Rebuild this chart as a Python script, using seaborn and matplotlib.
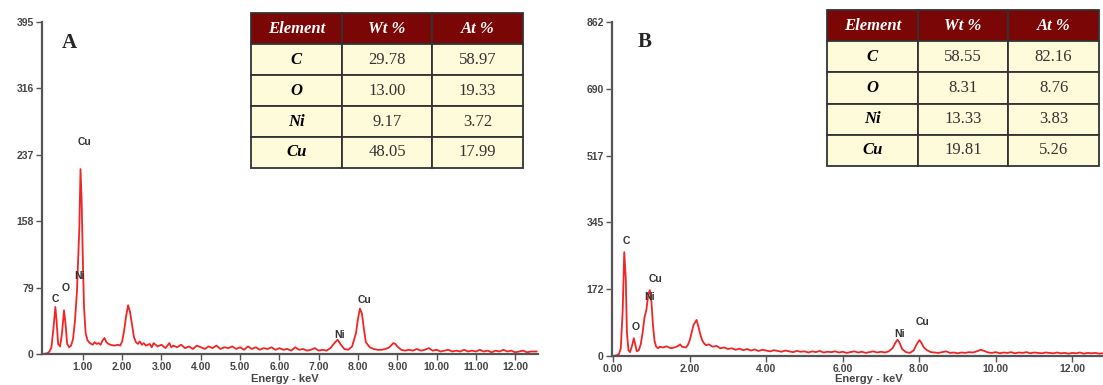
import pandas as pd
import numpy as np
import seaborn as sns
import matplotlib.pyplot as plt

# EDS spectrum A (energy in keV, counts)
energy_a = [0.00, 0.10, 0.15, 0.20, 0.25, 0.30, 0.33, 0.37, 0.42, 0.47, 0.52, 0.56, 0.60, 0.65,
            0.70, 0.75, 0.80, 0.85, 0.88, 0.91, 0.94, 0.97, 1.00, 1.03, 1.07, 1.12, 1.18, 1.25,
            1.30, 1.35, 1.40, 1.45, 1.50, 1.55, 1.60, 1.65, 1.70, 1.80, 1.90, 1.95, 2.00, 2.05,
            2.10, 2.15, 2.20, 2.25, 2.30, 2.35, 2.40, 2.45, 2.50, 2.55, 2.60, 2.70, 2.75, 2.80,
            2.90, 3.00, 3.10, 3.20, 3.25, 3.30, 3.40, 3.50, 3.60, 3.70, 3.80, 3.90, 4.00, 4.10,
            4.20, 4.30, 4.40, 4.50, 4.60, 4.70, 4.80, 4.90, 5.00, 5.10, 5.20, 5.30, 5.40, 5.50,
            5.60, 5.70, 5.80, 5.90, 6.00, 6.10, 6.20, 6.30, 6.40, 6.50, 6.60, 6.70, 6.80, 6.90,
            7.00, 7.10, 7.20, 7.30, 7.40, 7.48, 7.55, 7.65, 7.75, 7.85, 7.95, 8.00, 8.05, 8.10,
            8.15, 8.20, 8.30, 8.40, 8.50, 8.60, 8.70, 8.80, 8.90, 8.95, 9.00, 9.10, 9.20, 9.30,
            9.40, 9.50, 9.60, 9.70, 9.80, 9.90, 10.00, 10.10, 10.20, 10.30, 10.40, 10.50, 10.60,
            10.70, 10.80, 10.90, 11.00, 11.10, 11.20, 11.30, 11.40, 11.50, 11.60, 11.70, 11.80,
            11.90, 12.00, 12.10, 12.20, 12.30, 12.40, 12.55]
counts_a = [0, 1, 3, 8, 30, 56, 40, 12, 9, 25, 52, 35, 12, 8,
            10, 18, 40, 75, 112, 150, 220, 180, 110, 55, 25, 16, 13, 11,
            14, 12, 13, 11, 16, 19, 14, 12, 11, 10, 11, 10, 15, 28,
            45, 58, 50, 35, 20, 14, 12, 15, 11, 13, 10, 12, 8, 13,
            9, 11, 7, 13, 8, 10, 8, 11, 7, 9, 6, 10, 8, 6,
            9, 7, 10, 6, 8, 7, 9, 6, 8, 5, 9, 6, 8, 5,
            7, 6, 8, 5, 7, 5, 6, 4, 8, 5, 6, 4, 5, 7,
            4, 5, 4, 7, 13, 17, 12, 6, 5, 9, 25, 42, 54, 48,
            30, 14, 8, 6, 5, 5, 6, 8, 13, 12, 9, 5, 4, 5,
            4, 6, 4, 5, 7, 4, 5, 3, 4, 5, 3, 4, 3,
            5, 3, 4, 3, 5, 3, 4, 2, 4, 3, 5, 3,
            4, 2, 3, 4, 2, 3, 3]

# EDS spectrum B
energy_b = [0.00, 0.10, 0.15, 0.20, 0.25, 0.29, 0.33, 0.36, 0.40, 0.44, 0.49, 0.54, 0.58, 0.62,
            0.67, 0.72, 0.77, 0.82, 0.87, 0.92, 0.96, 1.00, 1.04, 1.08, 1.12, 1.17, 1.22, 1.30,
            1.40, 1.50, 1.60, 1.70, 1.75, 1.80, 1.90, 1.95, 2.00, 2.05, 2.10, 2.18, 2.23, 2.28,
            2.33, 2.38, 2.43, 2.50, 2.60, 2.70, 2.80, 2.90, 3.00, 3.10, 3.20, 3.30, 3.40, 3.50,
            3.60, 3.70, 3.80, 3.90, 4.00, 4.10, 4.20, 4.30, 4.40, 4.50, 4.60, 4.70, 4.80, 4.90,
            5.00, 5.10, 5.20, 5.30, 5.40, 5.50, 5.60, 5.70, 5.80, 5.90, 6.00, 6.10, 6.20, 6.30,
            6.40, 6.50, 6.60, 6.70, 6.80, 6.90, 7.00, 7.10, 7.20, 7.30, 7.38, 7.43, 7.48, 7.55,
            7.65, 7.75, 7.85, 7.93, 8.00, 8.05, 8.12, 8.20, 8.30, 8.40, 8.50, 8.60, 8.70, 8.80,
            8.90, 9.00, 9.10, 9.20, 9.30, 9.40, 9.50, 9.60, 9.70, 9.80, 9.90, 10.00, 10.10, 10.20,
            10.30, 10.40, 10.50, 10.60, 10.70, 10.80, 10.90, 11.00, 11.10, 11.20, 11.30, 11.40,
            11.50, 11.60, 11.70, 11.80, 11.90, 12.00, 12.10, 12.20, 12.30, 12.40, 12.50, 12.60,
            12.70, 12.80]
counts_b = [0, 2, 5, 20, 120, 268, 200, 60, 15, 10, 25, 46, 28, 12,
            15, 30, 60, 100, 120, 160, 170, 140, 80, 40, 25, 20, 24, 22,
            25, 20, 22, 26, 30, 24, 22, 28, 40, 60, 80, 93, 75, 55,
            40, 32, 28, 30, 24, 26, 20, 22, 18, 20, 16, 19, 15, 18,
            14, 17, 13, 16, 14, 12, 15, 13, 11, 14, 12, 10, 13, 11,
            12, 9, 12, 10, 13, 9, 11, 10, 12, 9, 11, 8, 10, 12,
            9, 11, 8, 10, 12, 9, 11, 9, 12, 20, 35, 42, 35, 18,
            10, 8, 14, 30, 41, 35, 22, 15, 10, 9, 8, 10, 12, 8,
            9, 7, 9, 8, 10, 9, 12, 16, 13, 9, 8, 10, 7, 9,
            8, 10, 7, 9, 8, 10, 7, 9, 8, 7, 9, 8,
            7, 9, 7, 8, 6, 8, 7, 9, 6, 8, 7, 8,
            6, 7]

elements = ['C', 'O', 'Ni', 'Cu']
wt_a = [29.78, 13.00, 9.17, 48.05]
at_a = [58.97, 19.33, 3.72, 17.99]
wt_b = [58.55, 8.31, 13.33, 19.81]
at_b = [82.16, 8.76, 3.83, 5.26]

yticks_a = [0, 79, 158, 237, 316, 395]
yticks_b = [0, 172.4, 344.8, 517.2, 689.6, 862]
ylabels_b = ['0', '172', '345', '517', '690', '862']

# peak labels (label, energy, counts)
peaks_a = [('C', 0.29, 65), ('O', 0.55, 79), ('Ni', 0.92, 93), ('Cu', 1.05, 252),
           ('Ni', 7.54, 23), ('Cu', 8.16, 64)]
peaks_b = [('C', 0.34, 297), ('O', 0.60, 76), ('Ni', 0.95, 151), ('Cu', 1.11, 200),
           ('Ni', 7.49, 57), ('Cu', 8.09, 88)]

sns.set_style('white')
plt.rcParams['font.family'] = ['Liberation Sans', 'DejaVu Sans']

fig = plt.figure(figsize=(11.03, 3.85), dpi=100)
ax_a = fig.add_axes([42/1103, 31/385, 496/1103, 332/385])
ax_b = fig.add_axes([612/1103, 29/385, 491/1103, 334/385])

red = '#f02525'
gray = '#444444'


def spectrum(ax, energy, counts, xlim, ymax, xticks, xlabels, yticks, ylabels, peaks,
             letter, letter_pos, lab_pos):
    df = pd.DataFrame({'energy': energy, 'counts': counts})
    sns.lineplot(data=df, x='energy', y='counts', ax=ax, color=red, lw=1.3, estimator=None)
    ax.set_xlim(*xlim)
    ax.set_ylim(0, ymax)
    ax.set_xticks(xticks)
    ax.set_xticklabels(xlabels)
    ax.set_yticks(yticks)
    ax.set_yticklabels(ylabels)
    ax.set_xlabel('')
    ax.set_ylabel('')
    for s in ['top', 'right']:
        ax.spines[s].set_visible(False)
    for s in ['left', 'bottom']:
        ax.spines[s].set_color('#555555')
        ax.spines[s].set_linewidth(1.6)
    ax.tick_params(axis='both', length=4, width=1, color='#555555', labelsize=7.5,
                   labelcolor=gray, pad=2, direction='out', left=True, bottom=True)
    for t in ax.get_xticklabels() + ax.get_yticklabels():
        t.set_fontweight('bold')
    for name, e, c in peaks:
        ax.text(e, c, name, fontsize=7.5, fontweight='bold', color='#333333',
                ha='center', va='center')
    ax.text(letter_pos[0], letter_pos[1], letter, transform=ax.transAxes,
            fontsize=15, fontweight='bold', family='Liberation Serif', va='center', ha='center')
    ax.text(lab_pos[0], lab_pos[1], 'Energy - keV', transform=ax.transAxes, fontsize=8,
            fontweight='bold', color=gray, ha='center', va='center', clip_on=False)


spectrum(ax_a, energy_a, counts_a, (-0.04, 12.58), 395, list(range(1, 13)),
         ['%.2f' % v for v in range(1, 13)], yticks_a, [str(v) for v in yticks_a],
         peaks_a, 'A', (0.056, 0.937), (0.49, -0.074))
spectrum(ax_b, energy_b, counts_b, (-0.03, 12.8), 862, list(range(0, 13, 2)),
         ['%.2f' % v for v in range(0, 13, 2)], yticks_b, ylabels_b,
         peaks_b, 'B', (0.067, 0.94), (0.523, -0.068))


def comp_table(rect, wt, at):
    tax = fig.add_axes(rect)
    tax.axis('off')
    rows = [[el, '%.2f' % w, '%.2f' % a] for el, w, a in zip(elements, wt, at)]
    tbl = tax.table(cellText=rows, colLabels=['Element', 'Wt %', 'At %'],
                    cellLoc='center', bbox=[0, 0, 1, 1])
    tbl.auto_set_font_size(False)
    for (r, c), cell in tbl.get_celld().items():
        cell.set_edgecolor('#333333')
        cell.set_linewidth(1.3)
        txt = cell.get_text()
        txt.set_family('Liberation Serif')
        txt.set_fontsize(12)
        if r == 0:
            cell.set_facecolor('#7a0606')
            txt.set_color('white')
            txt.set_fontweight('bold')
            txt.set_fontstyle('italic')
        else:
            cell.set_facecolor('#fdfbd9')
            if c == 0:
                txt.set_fontweight('bold')
                txt.set_fontstyle('italic')
                txt.set_color('black')
            else:
                txt.set_color('#333333')
    return tbl


comp_table([251/1103, 217/385, 272/1103, 155/385], wt_a, at_a)
comp_table([827/1103, 219/385, 272/1103, 156/385], wt_b, at_b)

fig.savefig('out.png', dpi=100, facecolor='white')
